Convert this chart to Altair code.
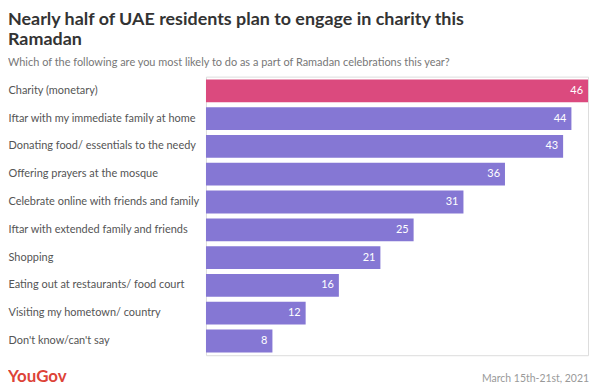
import altair as alt
import pandas as pd

categories = [
    "Charity (monetary)",
    "Iftar with my immediate family at home",
    "Donating food/ essentials to the needy",
    "Offering prayers at the mosque",
    "Celebrate online with friends and family",
    "Iftar with extended family and friends",
    "Shopping",
    "Eating out at restaurants/ food court",
    "Visiting my hometown/ country",
    "Don't know/can't say",
]
values = [46, 44, 43, 36, 31, 25, 21, 16, 12, 8]
groups = ["highlight"] + ["other"] * 9

title_lines = ["Nearly half of UAE residents plan to engage in charity this", "Ramadan"]
subtitle = "Which of the following are you most likely to do as a part of Ramadan celebrations this year?"
brand = "YouGov"
date_note = "March 15th-21st, 2021"

FONT = "Lato"

df = pd.DataFrame({"cat": categories, "val": values, "grp": groups})

y_enc = alt.Y(
    "cat:N",
    sort=categories,
    scale=alt.Scale(paddingInner=0.18, paddingOuter=0.1),
    axis=alt.Axis(
        title=None, ticks=False, domain=False, labelAlign="left",
        labelPadding=199, labelFont=FONT, labelFontSize=11,
        labelColor="#555555", labelLimit=0,
    ),
)
x_enc = alt.X("val:Q", scale=alt.Scale(domain=[0, 46], nice=False), axis=None)

bars = alt.Chart(df).mark_bar(cornerRadius=0).encode(
    y=y_enc,
    x=x_enc,
    color=alt.Color("grp:N", scale=alt.Scale(domain=["highlight", "other"], range=["#db4a7e", "#8577d4"]), legend=None),
)

labels = alt.Chart(df).mark_text(align="right", baseline="middle", dx=-5, color="white", font=FONT, fontSize=11).encode(
    y=alt.Y("cat:N", sort=categories),
    x="val:Q",
    text="val:Q",
)

def note(text, x, y, size, color, weight="normal", align="left"):
    return alt.Chart(pd.DataFrame({"t": [text]})).mark_text(
        align=align, baseline="alphabetic", font=FONT, fontSize=size, color=color, fontWeight=weight
    ).encode(x=alt.value(x), y=alt.value(y), text="t:N")

annos = [
    note(title_lines[0], -199, -52, 18, "#333333", "bold"),
    note(title_lines[1], -199, -32, 18, "#333333", "bold"),
    note(subtitle, -199, -11, 11, "#777777"),
    note(brand, -199, 307, 17, "#dd4338", "bold"),
    note(date_note, 385, 307, 10.5, "#999999", align="right"),
]

chart = alt.layer(bars, labels, *annos).properties(
    width=384, height=280,
    autosize=alt.AutoSizeParams(type="none"),
    padding={"left": 199, "top": 68, "right": 6, "bottom": 30},
).configure_view(stroke=None).configure(background="white")

chart.save("out.html", embed_options={"renderer": "svg", "actions": False})
